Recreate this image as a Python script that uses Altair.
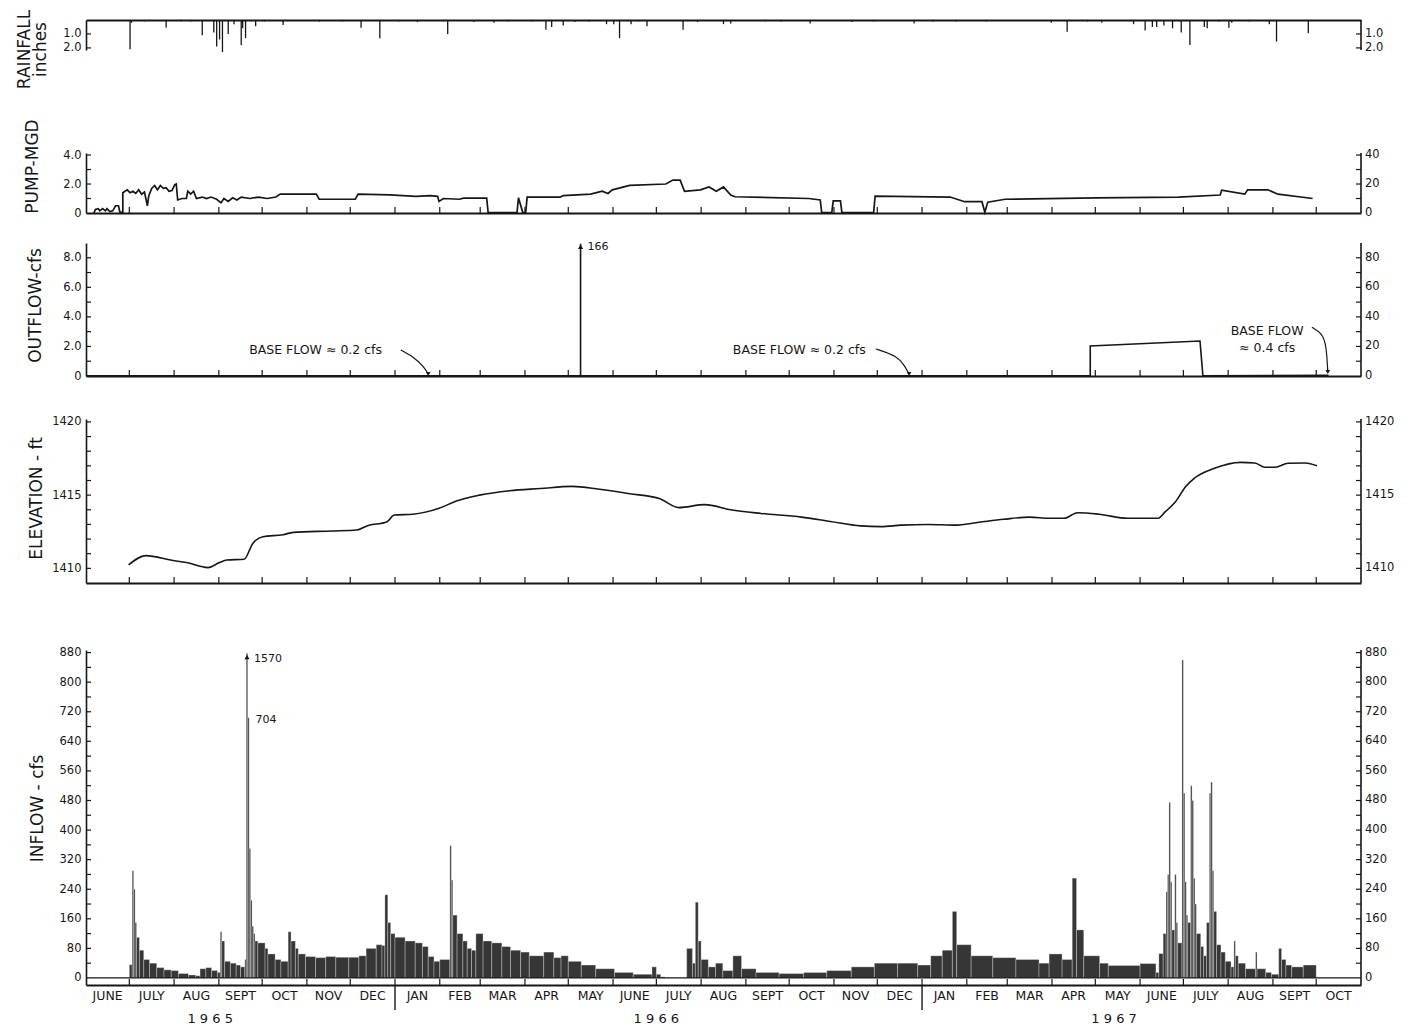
import altair as alt
import pandas as pd

# ---------------------------------------------------------------- data
RAIN = [
    ("1965-07-01", 2.1), ("1965-07-02", 0.2), ("1965-07-11", 0.1), ("1965-07-20", 0.08),
    ("1965-07-26", 0.55), ("1965-08-05", 0.1), ("1965-08-12", 0.1), ("1965-08-20", 1.1),
    ("1965-08-28", 0.9), ("1965-08-30", 1.9), ("1965-09-01", 1.4), ("1965-09-03", 2.3),
    ("1965-09-07", 1.0), ("1965-09-11", 0.3), ("1965-09-16", 1.8), ("1965-09-17", 0.6),
    ("1965-09-19", 1.3), ("1965-09-26", 0.45), ("1965-10-02", 0.1), ("1965-10-15", 0.35),
    ("1965-10-28", 0.08), ("1965-11-09", 0.1), ("1965-11-25", 0.1), ("1965-12-08", 0.55),
    ("1965-12-21", 1.3), ("1966-01-03", 0.1), ("1966-01-16", 0.15), ("1966-02-06", 1.0),
    ("1966-02-24", 0.15), ("1966-03-10", 0.2), ("1966-03-20", 0.1), ("1966-04-05", 0.1),
    ("1966-04-15", 0.7), ("1966-04-19", 0.5), ("1966-04-27", 0.4), ("1966-05-05", 0.15),
    ("1966-05-15", 0.1), ("1966-05-27", 0.3), ("1966-06-01", 0.3), ("1966-06-05", 1.3),
    ("1966-06-13", 0.3), ("1966-06-18", 0.1), ("1966-06-24", 0.45), ("1966-07-19", 0.7),
    ("1966-07-29", 0.15), ("1966-08-16", 0.3), ("1966-08-21", 0.25), ("1966-09-14", 0.1),
    ("1966-09-25", 0.1), ("1966-10-01", 0.08), ("1966-10-15", 0.25), ("1966-11-13", 0.15),
    ("1966-11-28", 0.1), ("1966-12-26", 0.25), ("1967-01-08", 0.1), ("1967-01-24", 0.1),
    ("1967-02-14", 0.1), ("1967-03-31", 0.2), ("1967-04-11", 0.85), ("1967-04-25", 0.1),
    ("1967-05-05", 0.2), ("1967-05-27", 0.3), ("1967-06-04", 0.75), ("1967-06-09", 0.5),
    ("1967-06-12", 0.5), ("1967-06-17", 0.4), ("1967-06-23", 0.6), ("1967-06-29", 0.9),
    ("1967-07-05", 1.8), ("1967-07-15", 0.5), ("1967-07-17", 0.6), ("1967-07-25", 0.1),
    ("1967-08-01", 0.55), ("1967-08-03", 0.2), ("1967-08-15", 0.1), ("1967-08-29", 0.3),
    ("1967-09-03", 1.55), ("1967-09-25", 0.95),
]

PUMP = [
    ("1965-06-06", 0.0), ("1965-06-07", 0.25), ("1965-06-09", 0.3), ("1965-06-10", 0.15),
    ("1965-06-12", 0.3), ("1965-06-14", 0.15), ("1965-06-15", 0.3), ("1965-06-17", 0.1),
    ("1965-06-19", 0.15), ("1965-06-21", 0.5), ("1965-06-23", 0.5), ("1965-06-24", 0.05),
    ("1965-06-26", 0.05), ("1965-06-26", 1.4), ("1965-06-29", 1.6), ("1965-07-01", 1.4),
    ("1965-07-03", 1.5), ("1965-07-05", 1.35), ("1965-07-07", 1.6), ("1965-07-09", 1.3),
    ("1965-07-11", 1.45), ("1965-07-13", 0.5), ("1965-07-14", 1.2), ("1965-07-16", 1.7),
    ("1965-07-18", 1.9), ("1965-07-20", 1.6), ("1965-07-22", 1.9), ("1965-07-24", 1.7),
    ("1965-07-26", 1.75), ("1965-07-28", 1.5), ("1965-07-30", 1.55), ("1965-08-01", 1.95),
    ("1965-08-02", 2.0), ("1965-08-03", 0.9), ("1965-08-06", 1.0), ("1965-08-09", 1.0),
    ("1965-08-10", 1.5), ("1965-08-12", 1.3), ("1965-08-14", 1.5), ("1965-08-16", 1.0),
    ("1965-08-20", 1.1), ("1965-08-23", 1.0), ("1965-08-26", 1.1), ("1965-08-30", 0.95),
    ("1965-09-02", 0.7), ("1965-09-04", 1.0), ("1965-09-07", 0.8), ("1965-09-10", 1.05),
    ("1965-09-13", 0.9), ("1965-09-16", 1.1), ("1965-09-22", 1.0), ("1965-09-28", 1.1),
    ("1965-10-04", 1.0), ("1965-10-10", 1.1), ("1965-10-13", 1.3), ("1965-11-07", 1.3),
    ("1965-11-09", 0.95), ("1965-12-04", 0.95), ("1965-12-06", 1.3), ("1965-12-28", 1.25),
    ("1966-01-15", 1.15), ("1966-01-25", 1.2), ("1966-01-30", 1.15), ("1966-01-31", 0.8),
    ("1966-02-03", 1.0), ("1966-02-14", 0.95), ("1966-02-17", 1.03), ("1966-03-05", 1.03),
    ("1966-03-06", 0.03), ("1966-03-26", 0.03), ("1966-03-27", 1.05), ("1966-03-30", 0.03),
    ("1966-04-01", 0.03), ("1966-04-02", 1.1), ("1966-04-25", 1.1), ("1966-04-27", 1.2),
    ("1966-05-16", 1.3), ("1966-05-24", 1.5), ("1966-05-28", 1.35), ("1966-05-31", 1.6),
    ("1966-06-12", 1.9), ("1966-07-07", 2.0), ("1966-07-12", 2.27), ("1966-07-17", 2.27),
    ("1966-07-20", 1.5), ("1966-07-31", 1.6), ("1966-08-06", 1.8), ("1966-08-11", 1.5),
    ("1966-08-16", 1.8), ("1966-08-21", 1.24), ("1966-08-24", 1.12), ("1966-10-14", 1.0),
    ("1966-10-22", 0.9), ("1966-10-23", 0.03), ("1966-10-30", 0.03), ("1966-10-31", 0.83),
    ("1966-11-05", 0.83), ("1966-11-06", 0.03), ("1966-11-28", 0.03), ("1966-11-29", 1.17),
    ("1967-01-20", 1.1), ("1967-01-30", 0.78), ("1967-02-11", 0.78), ("1967-02-13", 0.05),
    ("1967-02-15", 0.75), ("1967-02-27", 0.95), ("1967-05-01", 1.05), ("1967-06-27", 1.1),
    ("1967-07-26", 1.24), ("1967-07-27", 1.58), ("1967-08-12", 1.3), ("1967-08-14", 1.6),
    ("1967-08-28", 1.6), ("1967-09-04", 1.3), ("1967-09-28", 1.0),
]

OUTFLOW = [
    ("1965-06-01", 0.02), ("1966-05-08", 0.02), ("1966-05-10", 0.02), ("1967-04-27", 0.02),
    ("1967-04-27", 2.03), ("1967-07-12", 2.37), ("1967-07-14", 0.02), ("1967-10-09", 0.04),
]
OUTFLOW_PEAK = ("1966-05-09", 166)

ELEVATION = [
    ("1965-06-30", 1410.23), ("1965-07-12", 1410.87), ("1965-07-30", 1410.55),
    ("1965-08-09", 1410.4), ("1965-08-24", 1410.05), ("1965-09-01", 1410.4),
    ("1965-09-06", 1410.57), ("1965-09-18", 1410.62), ("1965-09-24", 1411.7),
    ("1965-10-01", 1412.16), ("1965-10-15", 1412.3), ("1965-10-22", 1412.46),
    ("1965-11-18", 1412.55), ("1965-12-05", 1412.62), ("1965-12-12", 1412.9),
    ("1965-12-26", 1413.19), ("1965-12-31", 1413.64), ("1966-01-13", 1413.7),
    ("1966-01-31", 1414.1), ("1966-02-12", 1414.6), ("1966-02-28", 1415.0),
    ("1966-03-21", 1415.3), ("1966-04-11", 1415.45), ("1966-05-03", 1415.6),
    ("1966-05-22", 1415.4), ("1966-06-12", 1415.1), ("1966-07-03", 1414.75),
    ("1966-07-16", 1414.15), ("1966-08-03", 1414.35), ("1966-08-21", 1414.0),
    ("1966-09-11", 1413.75), ("1966-10-09", 1413.5), ("1966-10-29", 1413.2),
    ("1966-11-19", 1412.9), ("1966-12-03", 1412.85), ("1966-12-17", 1412.95),
    ("1967-01-05", 1413.0), ("1967-01-23", 1412.95), ("1967-02-09", 1413.15),
    ("1967-02-26", 1413.35), ("1967-03-16", 1413.5), ("1967-03-30", 1413.42),
    ("1967-04-09", 1413.42), ("1967-04-18", 1413.8), ("1967-05-03", 1413.7),
    ("1967-05-23", 1413.42), ("1967-06-13", 1413.42), ("1967-06-18", 1413.87),
    ("1967-06-25", 1414.55), ("1967-07-02", 1415.58), ("1967-07-08", 1416.15),
    ("1967-07-22", 1416.83), ("1967-08-09", 1417.24), ("1967-08-19", 1417.2),
    ("1967-08-26", 1416.9), ("1967-09-02", 1416.9), ("1967-09-11", 1417.18),
    ("1967-09-23", 1417.2), ("1967-10-01", 1417.0),
]

# each value holds from its date until the next date
INFLOW = [
    ("1965-07-01", 36), ("1965-07-03", 290), ("1965-07-04", 240), ("1965-07-05", 150),
    ("1965-07-06", 110), ("1965-07-08", 75), ("1965-07-11", 50), ("1965-07-15", 40),
    ("1965-07-20", 28), ("1965-07-25", 22), ("1965-07-30", 20), ("1965-08-04", 12),
    ("1965-08-11", 8), ("1965-08-16", 6), ("1965-08-19", 25), ("1965-08-23", 28),
    ("1965-08-27", 20), ("1965-08-31", 15), ("1965-09-02", 125), ("1965-09-03", 100),
    ("1965-09-05", 45), ("1965-09-09", 40), ("1965-09-13", 35), ("1965-09-16", 30),
    ("1965-09-19", 50), ("1965-09-20", 1570), ("1965-09-21", 704), ("1965-09-22", 350),
    ("1965-09-23", 210), ("1965-09-24", 140), ("1965-09-25", 120), ("1965-09-26", 100),
    ("1965-09-28", 95), ("1965-10-03", 80), ("1965-10-05", 65), ("1965-10-10", 50),
    ("1965-10-14", 45), ("1965-10-19", 125), ("1965-10-21", 100), ("1965-10-24", 80),
    ("1965-10-26", 65), ("1965-10-31", 58), ("1965-11-07", 55), ("1965-11-14", 58),
    ("1965-11-21", 56), ("1965-11-30", 56), ("1965-12-07", 60), ("1965-12-12", 80),
    ("1965-12-19", 90), ("1965-12-23", 88), ("1965-12-25", 225), ("1965-12-27", 150),
    ("1965-12-29", 120), ("1966-01-01", 110), ("1966-01-08", 100), ("1966-01-15", 95),
    ("1966-01-20", 85), ("1966-01-24", 58), ("1966-01-28", 45), ("1966-02-01", 50),
    ("1966-02-08", 358), ("1966-02-09", 265), ("1966-02-10", 170), ("1966-02-13", 120),
    ("1966-02-17", 100), ("1966-02-20", 80), ("1966-02-23", 75), ("1966-02-26", 120),
    ("1966-03-03", 100), ("1966-03-09", 95), ("1966-03-16", 85), ("1966-03-22", 75),
    ("1966-03-29", 70), ("1966-04-04", 60), ("1966-04-14", 70), ("1966-04-21", 55),
    ("1966-04-26", 60), ("1966-05-01", 45), ("1966-05-10", 35), ("1966-05-20", 25),
    ("1966-06-02", 15), ("1966-06-15", 10), ("1966-06-28", 30), ("1966-07-01", 10),
    ("1966-07-04", 3), ("1966-07-07", 0), ("1966-07-22", 80), ("1966-07-26", 40),
    ("1966-07-28", 205), ("1966-07-30", 100), ("1966-08-01", 50), ("1966-08-06", 30),
    ("1966-08-11", 40), ("1966-08-16", 20), ("1966-08-23", 60), ("1966-08-29", 25),
    ("1966-09-08", 15), ("1966-09-24", 12), ("1966-10-11", 15), ("1966-10-27", 20),
    ("1966-11-13", 30), ("1966-11-29", 40), ("1966-12-15", 40), ("1966-12-29", 35),
    ("1967-01-07", 60), ("1967-01-15", 75), ("1967-01-22", 180), ("1967-01-25", 90),
    ("1967-02-04", 60), ("1967-02-19", 55), ("1967-03-07", 50), ("1967-03-23", 40),
    ("1967-03-30", 65), ("1967-04-08", 50), ("1967-04-15", 270), ("1967-04-18", 130),
    ("1967-04-23", 60), ("1967-05-04", 40), ("1967-05-10", 34), ("1967-06-01", 39),
    ("1967-06-12", 15), ("1967-06-14", 66), ("1967-06-17", 120), ("1967-06-19", 233),
    ("1967-06-20", 280), ("1967-06-21", 475), ("1967-06-22", 260), ("1967-06-23", 130),
    ("1967-06-25", 280), ("1967-06-26", 150), ("1967-06-27", 95), ("1967-06-30", 860),
    ("1967-07-01", 500), ("1967-07-02", 260), ("1967-07-03", 170), ("1967-07-04", 150),
    ("1967-07-06", 520), ("1967-07-07", 480), ("1967-07-08", 270), ("1967-07-09", 200),
    ("1967-07-10", 120), ("1967-07-13", 85), ("1967-07-15", 60), ("1967-07-17", 150),
    ("1967-07-19", 500), ("1967-07-20", 530), ("1967-07-21", 290), ("1967-07-22", 180),
    ("1967-07-24", 90), ("1967-07-27", 70), ("1967-07-30", 45), ("1967-08-03", 30),
    ("1967-08-05", 100), ("1967-08-06", 60), ("1967-08-08", 40), ("1967-08-13", 25),
    ("1967-08-20", 70), ("1967-08-21", 25), ("1967-08-27", 15), ("1967-08-31", 10),
    ("1967-09-05", 80), ("1967-09-07", 50), ("1967-09-10", 35), ("1967-09-14", 30),
    ("1967-09-22", 35), ("1967-10-01", 0),
]
INFLOW_LABELS = [("1965-09-20", "1570"), ("1965-09-21", "704")]

MONTH_LABELS = ["JUNE", "JULY", "AUG", "SEPT", "OCT", "NOV", "DEC",
                "JAN", "FEB", "MAR", "APR", "MAY", "JUNE", "JULY", "AUG", "SEPT", "OCT", "NOV", "DEC",
                "JAN", "FEB", "MAR", "APR", "MAY", "JUNE", "JULY", "AUG", "SEPT", "OCT"]
YEAR_LABELS = [("1965-08-26", "1 9 6 5"), ("1966-07-01", "1 9 6 6"), ("1967-05-14", "1 9 6 7")]
YEAR_BREAKS = ["1966-01-01", "1967-01-01"]

BASE_FLOW_TEXT = [("1965-11-07", 1.76, "BASE FLOW  \u2248  0.2 cfs"),
                  ("1966-10-08", 1.76, "BASE FLOW  \u2248 0.2 cfs"),
                  ("1967-08-28", 3.05, "BASE FLOW"),
                  ("1967-08-28", 1.90, "\u2248 0.4 cfs")]
BASE_FLOW_ARROWS = [
    (1, "1966-01-05", 1.76), (1, "1966-01-15", 1.22), (1, "1966-01-21", 0.61), (1, "1966-01-24", 0.14),
    (2, "1966-11-30", 1.83), (2, "1966-12-15", 1.35), (2, "1966-12-20", 0.68), (2, "1966-12-23", 0.14),
    (3, "1967-09-28", 3.3), (3, "1967-10-05", 2.9), (3, "1967-10-08", 2.1), (3, "1967-10-09", 0.27),
]

# tick labels (left side / right side)
RAIN_TICKS, RAIN_LEFT, RAIN_RIGHT = [1, 2], ["1.0", "2.0"], ["1.0", "2.0"]
PUMP_TICKS, PUMP_LEFT, PUMP_RIGHT = [0, 2, 4], ["0", "2.0", "4.0"], ["0", "20", "40"]
OUT_TICKS, OUT_LEFT, OUT_RIGHT = ([0, 2, 4, 6, 8], ["0", "2.0", "4.0", "6.0", "8.0"],
                                  ["0", "20", "40", "60", "80"])
ELEV_TICKS, ELEV_LABELS = [1410, 1415, 1420], ["1410", "1415", "1420"]
IN_TICKS = list(range(0, 881, 80))
IN_LABELS = [str(v) for v in IN_TICKS]

# ---------------------------------------------------------------- helpers
START = pd.Timestamp("1965-06-01")
END = pd.Timestamp("1967-11-01")
NDAYS = float((END - START).days)


def dnum(s, off=0.0):
    return float((pd.Timestamp(s) - START).days) + off


W = 1275
TICK = 5
INK = "#161616"
FONT = "DejaVu Sans"
LABEL_SIZE = 11.5
XS = alt.Scale(domain=[0, NDAYS], nice=False, zero=False)

MONTH_STARTS = [str(t.date()) for t in pd.date_range("1965-06-01", "1967-11-01", freq="MS")]
MONTH_TICK_DAYS = [dnum(s) for s in MONTH_STARTS[1:-1]]
MONTH_MID_DAYS = [(dnum(a) + dnum(b)) / 2 for a, b in zip(MONTH_STARTS[:-1], MONTH_STARTS[1:])]


class Panel:
    """Holds one panel's shared scales and axes so every layer carries identical axis specs."""

    def __init__(self, h, ydomain, ticks, left_labels, title, tx, ty,
                 reverse=False, x_orient="bottom"):
        self.h = h
        self.ys = alt.Scale(domain=ydomain, nice=False, zero=False, reverse=reverse)
        lab_expr = "{" + ",".join(f"'{t}': '{s}'" for t, s in zip(ticks, left_labels)) + "}"
        self.yax = alt.Axis(
            orient="left", values=ticks, labelExpr=f"{lab_expr}[datum.value + '']",
            ticks=False, grid=False, domain=True, domainColor=INK, domainWidth=1.6,
            labelFont=FONT, labelFontSize=LABEL_SIZE, labelColor=INK, labelPadding=5,
            title=title, titleFont=FONT, titleFontSize=17, titleFontWeight="normal",
            titleColor=INK, titleX=tx, titleY=ty, titleAngle=270,
            titleAlign="center", titleBaseline="middle", titleLineHeight=16)
        self.xax = alt.Axis(orient=x_orient, domain=True, domainColor=INK, domainWidth=1.8,
                            labels=False, ticks=False, grid=False, title=None)

    def X(self, field="d"):
        return alt.X(f"{field}:Q", scale=XS, axis=self.xax)

    def Y(self, field="v"):
        return alt.Y(f"{field}:Q", scale=self.ys, axis=self.yax)

    def build(self, minor, ticks, right_labels, layers, month_ticks=True):
        h = self.h
        mdf = pd.DataFrame({"t": minor})
        left = alt.Chart(mdf).mark_rule(color=INK, strokeWidth=1.2).encode(
            x=alt.value(0), x2=alt.value(TICK), y=self.Y("t"))
        rticks = alt.Chart(mdf).mark_rule(color=INK, strokeWidth=1.2).encode(
            x=alt.value(W - TICK), x2=alt.value(W), y=self.Y("t"))
        rdom = alt.Chart(pd.DataFrame({"a": [0]})).mark_rule(color=INK, strokeWidth=1.6).encode(
            x=alt.value(W), y=alt.value(0), y2=alt.value(h))
        rdf = pd.DataFrame({"t": ticks, "s": right_labels})
        rtext = alt.Chart(rdf).mark_text(align="left", baseline="middle", dx=4, font=FONT,
                                         fontSize=LABEL_SIZE, color=INK).encode(
            x=alt.value(W), y=self.Y("t"), text="s:N")
        tdf = pd.DataFrame({"d": MONTH_TICK_DAYS})
        mt = alt.Chart(tdf).mark_rule(color=INK, strokeWidth=1.2,
                                       opacity=1 if month_ticks else 0).encode(
            x=self.X("d"), y=alt.value(h), y2=alt.value(h - 6))
        return alt.layer(left, mt, rticks, rdom, rtext, *layers).properties(width=W, height=h)


def spacer(h):
    return alt.Chart(pd.DataFrame({"d": [0.0]})).mark_point(opacity=0).encode(
        x=alt.X("d:Q", scale=XS, axis=None)).properties(width=W, height=h)


# ---------------------------------------------------------------- rainfall
P = Panel(30, [0, 2.15], RAIN_TICKS, RAIN_LEFT, ["RAINFALL", "inches"], -62, 29,
          reverse=True, x_orient="top")
rain_df = pd.DataFrame(RAIN, columns=["date", "v"])
rain_df["d"] = rain_df["date"].map(lambda s: dnum(s, 0.5))
rain_marks = alt.Chart(rain_df).mark_rule(color=INK, strokeWidth=1.3).encode(
    x=P.X("d"), y=P.Y("v"), y2=alt.datum(0))
rain = P.build([1, 2], RAIN_TICKS, RAIN_RIGHT, [rain_marks], month_ticks=False)

# ---------------------------------------------------------------- pump
P = Panel(60, [0, 4.14], PUMP_TICKS, PUMP_LEFT, "PUMP-MGD", -54, 13)
pump_df = pd.DataFrame(PUMP, columns=["date", "v"])
pump_df["d"] = pump_df["date"].map(lambda s: dnum(s, 0.5))
pump_df["i"] = range(len(pump_df))
pump_line = alt.Chart(pump_df).mark_line(color=INK, strokeWidth=1.7).encode(
    x=P.X("d"), y=P.Y("v"), order="i:Q")
pump = P.build([1, 2, 3, 4], PUMP_TICKS, PUMP_RIGHT, [pump_line])

# ---------------------------------------------------------------- outflow
OUT_TOP = 9.0
P = Panel(133, [0, OUT_TOP], OUT_TICKS, OUT_LEFT, "OUTFLOW-cfs", -51, 62)
out_df = pd.DataFrame(OUTFLOW, columns=["date", "v"])
out_df["d"] = out_df["date"].map(lambda s: dnum(s, 0.5))
out_df["i"] = range(len(out_df))
out_line = alt.Chart(out_df).mark_line(color=INK, strokeWidth=1.6).encode(
    x=P.X("d"), y=P.Y("v"), order="i:Q")
peak_df = pd.DataFrame({"d": [dnum(OUTFLOW_PEAK[0], 0.5)], "v": [OUTFLOW_PEAK[1]]})
peak_df["vc"] = peak_df["v"].clip(upper=OUT_TOP - 0.05)
peak_df["s"] = peak_df["v"].astype(str)
out_spike = alt.Chart(peak_df).mark_rule(color=INK, strokeWidth=1.6).encode(
    x=P.X("d"), y=P.Y("vc"), y2=alt.datum(0))
out_head = alt.Chart(peak_df).mark_point(shape="triangle-up", filled=True, size=28,
                                          color=INK, opacity=1, yOffset=3).encode(
    x=P.X("d"), y=P.Y("vc"))
out_lab = alt.Chart(peak_df).mark_text(align="left", baseline="middle", dx=7, dy=3,
                                        font=FONT, fontSize=11, color=INK).encode(
    x=P.X("d"), y=P.Y("vc"), text="s:N")
bft = pd.DataFrame(BASE_FLOW_TEXT, columns=["date", "v", "s"])
bft["d"] = bft["date"].map(dnum)
bf_text = alt.Chart(bft).mark_text(align="center", baseline="middle", font=FONT,
                                   fontSize=12.5, color=INK).encode(
    x=P.X("d"), y=P.Y("v"), text="s:N")
bfa = pd.DataFrame(BASE_FLOW_ARROWS, columns=["g", "date", "v"])
bfa["d"] = bfa["date"].map(dnum)
bfa["i"] = range(len(bfa))
bf_arrow = alt.Chart(bfa).mark_line(color=INK, strokeWidth=1.2, interpolate="basis").encode(
    x=P.X("d"), y=P.Y("v"), detail="g:N", order="i:Q")
bf_tip = alt.Chart(bfa.groupby("g").tail(1)).mark_point(
    shape="triangle-down", filled=True, size=22, color=INK, opacity=1).encode(
    x=P.X("d"), y=P.Y("v"))
outflow = P.build([1, 2, 3, 4, 5, 6, 7, 8], OUT_TICKS, OUT_RIGHT,
                  [out_line, out_spike, out_head, out_lab, bf_text, bf_arrow, bf_tip])

# ---------------------------------------------------------------- elevation
P = Panel(164, [1409, 1420.2], ELEV_TICKS, ELEV_LABELS, "ELEVATION - ft", -50, 79)
elev_df = pd.DataFrame(ELEVATION, columns=["date", "v"])
elev_df["d"] = elev_df["date"].map(lambda s: dnum(s, 0.5))
elev_line = alt.Chart(elev_df).mark_line(color=INK, strokeWidth=1.6, interpolate="monotone").encode(
    x=P.X("d"), y=P.Y("v"))
elevation = P.build(list(range(1410, 1421)), ELEV_TICKS, ELEV_LABELS, [elev_line])

# ---------------------------------------------------------------- inflow
IN_TOP = 880
H_IN = 335
P = Panel(H_IN, [-19, 887], IN_TICKS, IN_LABELS, "INFLOW - cfs", -49, 158)
in_df = pd.DataFrame(INFLOW, columns=["date", "v"])
in_df["d"] = in_df["date"].map(dnum)
in_df["d2"] = in_df["d"].shift(-1)
in_df = in_df.dropna().copy()
in_df["vc"] = in_df["v"].clip(upper=IN_TOP - 2)
in_bars = alt.Chart(in_df).mark_rect(color="#363636", stroke="#ffffff", strokeWidth=0.3).encode(
    x=P.X("d"), x2="d2", y=P.Y("vc"), y2=alt.datum(0))
zero_line = alt.Chart(pd.DataFrame({"v": [0]})).mark_rule(color=INK, strokeWidth=1.3).encode(
    x=alt.value(0), x2=alt.value(W), y=P.Y("v"))
lab_rows = []
for date, s in INFLOW_LABELS:
    v = dict(INFLOW)[date]
    lab_rows.append({"d": dnum(date, 0.5), "v": min(v, IN_TOP - 12), "s": s})
in_lab_df = pd.DataFrame(lab_rows)
in_labels = alt.Chart(in_lab_df).mark_text(align="left", baseline="middle", dx=7, dy=2,
                                           font=FONT, fontSize=11, color=INK).encode(
    x=P.X("d"), y=P.Y("v"), text="s:N")
in_head = alt.Chart(in_lab_df.iloc[:1]).mark_point(shape="triangle-up", filled=True, size=26,
                                                    color=INK, opacity=1).encode(
    x=P.X("d"), y=P.Y("v"))
mon_df = pd.DataFrame({"d": MONTH_MID_DAYS, "m": MONTH_LABELS})
mon_text = alt.Chart(mon_df).mark_text(baseline="middle", font=FONT, fontSize=12.5, color=INK).encode(
    x=P.X("d"), y=alt.value(H_IN + 11), text="m:N")
yr_df = pd.DataFrame(YEAR_LABELS, columns=["date", "s"])
yr_df["d"] = yr_df["date"].map(dnum)
yr_text = alt.Chart(yr_df).mark_text(baseline="middle", font=FONT, fontSize=13, color=INK).encode(
    x=P.X("d"), y=alt.value(H_IN + 34), text="s:N")
br_df = pd.DataFrame({"d": [dnum(s) for s in YEAR_BREAKS]})
yr_breaks = alt.Chart(br_df).mark_rule(color=INK, strokeWidth=1.4).encode(
    x=P.X("d"), y=alt.value(H_IN), y2=alt.value(H_IN + 25))
inflow = P.build(list(range(40, 881, 40)), IN_TICKS, IN_LABELS,
                 [in_bars, zero_line, in_head, in_labels, mon_text, yr_text, yr_breaks])

chart = alt.vconcat(
    rain, spacer(103), pump, spacer(30), outflow, spacer(43), elevation, spacer(67), inflow,
    spacing=0, bounds="flush",
).properties(
    padding={"left": 14, "top": 9, "right": 5, "bottom": 4},
    background="white",
).configure_view(stroke=None)

chart.save("out.html", embed_options={"renderer": "svg", "actions": False})
